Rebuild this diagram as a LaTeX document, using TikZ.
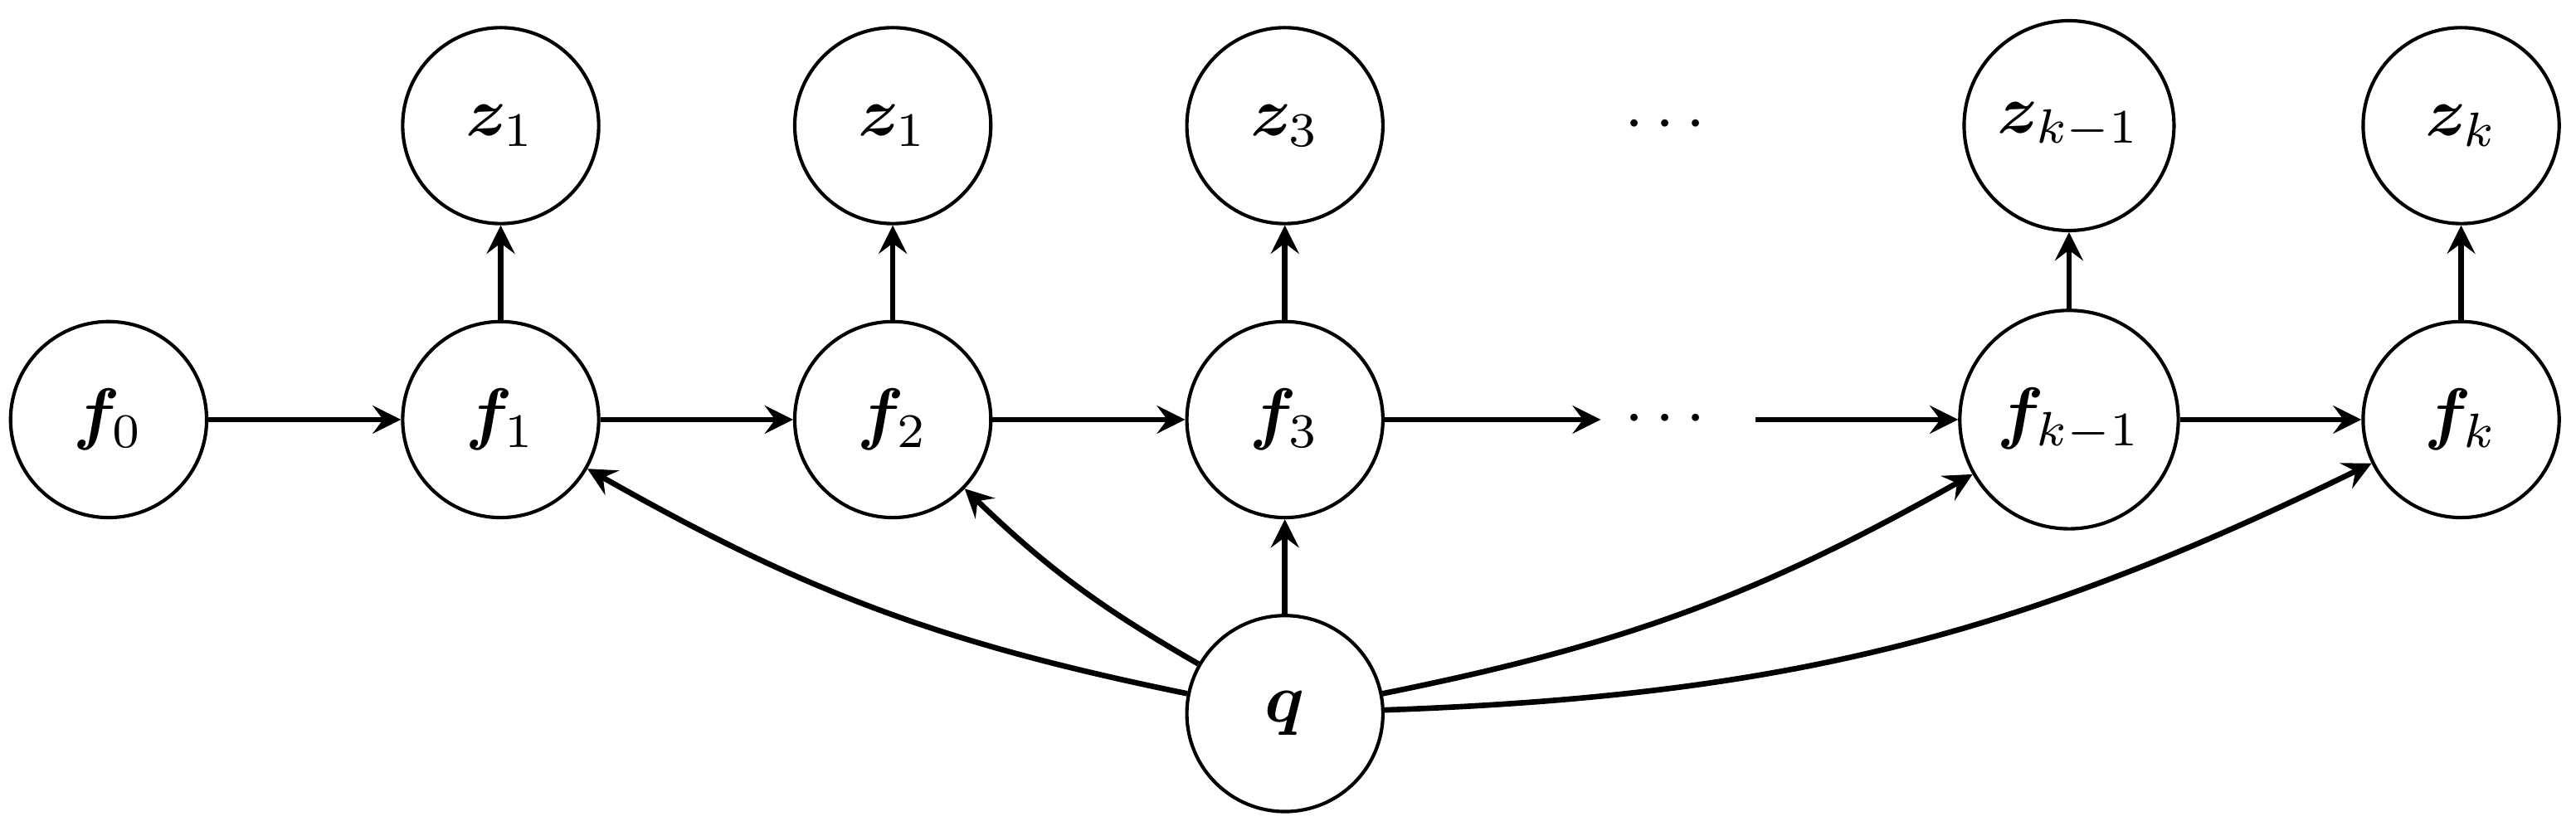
\documentclass[tikz,border=0pt]{standalone}
\usepackage{amsmath,amssymb,bm}
\begin{document}
\begin{tikzpicture}[
  var/.style={circle, draw, line width=0.5pt, minimum size=1cm, inner sep=3.33pt},
  plain/.style={inner sep=3.33pt},
  edge/.style={->, >=stealth, thick}
]
\useasboundingbox (-0.554,-2.099) rectangle (12.586,2.141);
\node[var] (f0) at (0,0) {$\bm{f}_0$};
\node[var] (f1) at (2,0) {$\bm{f}_1$};
\node[var] (f2) at (4,0) {$\bm{f}_2$};
\node[var] (f3) at (6,0) {$\bm{f}_3$};
\node[plain] (dm) at (7.97,0) {$\cdots$};
\node[var] (fk1) at (10,0) {$\bm{f}_{k-1}$};
\node[var] (fk) at (12,0) {$\bm{f}_k$};
\node[var] (z1) at (2,1.5) {$\bm{z}_1$};
\node[var] (z2) at (4,1.5) {$\bm{z}_1$};
\node[var] (z3) at (6,1.5) {$\bm{z}_3$};
\node[plain] (dt) at (7.97,1.5) {$\cdots$};
\node[var] (zk1) at (10,1.5) {$\bm{z}_{k-1}$};
\node[var] (zk) at (12,1.5) {$\bm{z}_k$};
\node[var] (q) at (6,-1.5) {$\bm{q}$};
\draw[edge] (f0) -- (f1);
\draw[edge] (f1) -- (f2);
\draw[edge] (f2) -- (f3);
\draw[edge] (f3) -- (dm);
\draw[edge, shorten <=2pt] (dm) -- (fk1);
\draw[edge] (fk1) -- (fk);
\draw[edge] (f1) -- (z1);
\draw[edge] (f2) -- (z2);
\draw[edge] (f3) -- (z3);
\draw[edge] (fk1) -- (zk1);
\draw[edge] (fk) -- (zk);
\draw[edge] (q) -- (f3);
\draw[edge] (q) to[bend left=9] (f1);
\draw[edge] (q) to[bend left=7] (f2);
\draw[edge] (q) to[bend right=9] (fk1);
\draw[edge] (q) to[bend right=12] (fk);
\end{tikzpicture}
\end{document}
